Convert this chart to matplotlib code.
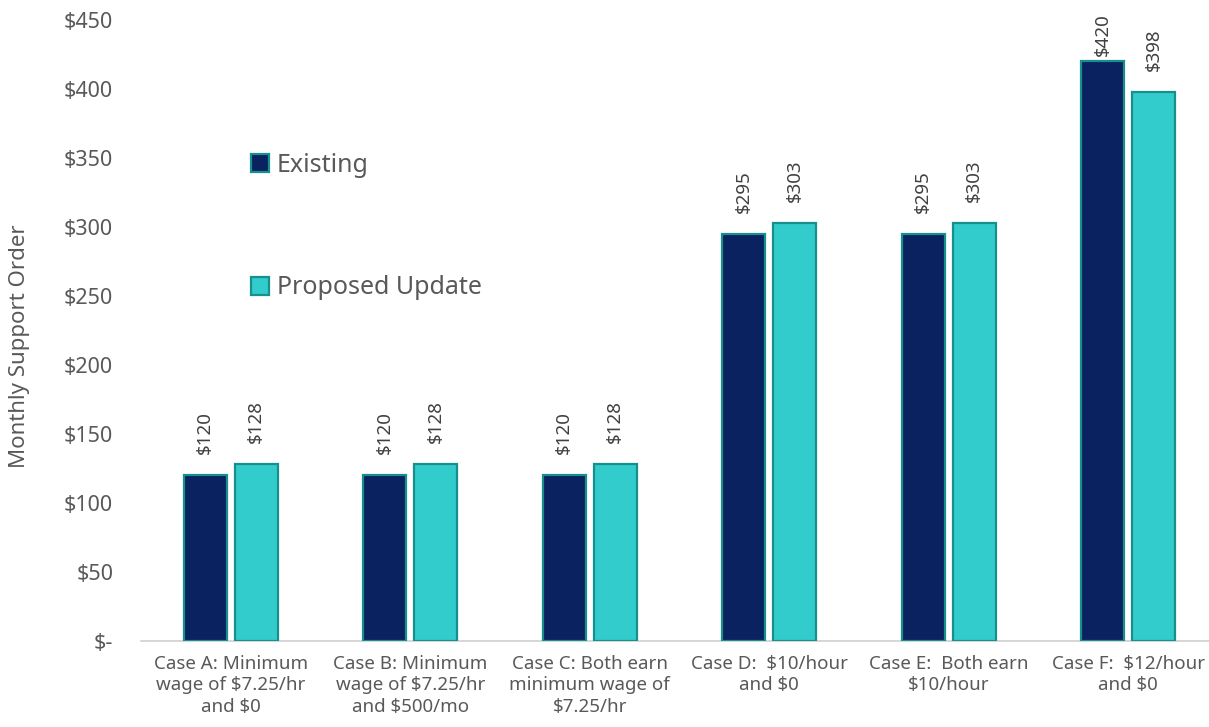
import matplotlib
matplotlib.use("Agg")
import matplotlib.pyplot as plt
import numpy as np

# Chart data
categories = [
    "Case A: Minimum\nwage of $7.25/hr\nand $0",
    "Case B: Minimum\nwage of $7.25/hr\nand $500/mo",
    "Case C: Both earn\nminimum wage of\n$7.25/hr",
    "Case D:  $10/hour\nand $0",
    "Case E:  Both earn\n$10/hour",
    "Case F:  $12/hour\nand $0",
]
existing = [120, 120, 120, 295, 295, 420]
proposed = [128, 128, 128, 303, 303, 398]
series_names = ["Existing", "Proposed Update"]
y_ticks = [0, 50, 100, 150, 200, 250, 300, 350, 400, 450]
y_tick_labels = ["$-", "$50", "$100", "$150", "$200", "$250", "$300", "$350", "$400", "$450"]

plt.rcParams["font.family"] = ["Noto Sans", "DejaVu Sans"]

NAVY = "#0b2260"
TEAL = "#33cccc"
EDGE = "#178f8c"
GRAY = "#595959"

W, H = 1209, 727
AX_LEFT, AX_BOTTOM, AX_TOP = 141, 641, 20
fig = plt.figure(figsize=(W / 100, H / 100), dpi=100)
ax = fig.add_axes([AX_LEFT / W, (H - AX_BOTTOM) / H, (W - AX_LEFT) / W,
                   (AX_BOTTOM - AX_TOP) / H])

YMAX = 450
px_per_unit = (AX_BOTTOM - AX_TOP) / YMAX

x = np.arange(len(categories))
bw = 0.24
off = 0.142
b1 = ax.bar(x - off, existing, bw, color=NAVY, edgecolor=EDGE, linewidth=1.6,
            label=series_names[0], zorder=3)
b2 = ax.bar(x + off, proposed, bw, color=TEAL, edgecolor=EDGE, linewidth=1.6,
            label=series_names[1], zorder=3)

# value labels sit above each bar; keep them inside the figure near the top
LABEL_LEN_PX = 44
TOP_LIMIT_PX = 12
for bars, vals in ((b1, existing), (b2, proposed)):
    for rect, v in zip(bars, vals):
        bar_top_px = AX_BOTTOM - v * px_per_unit
        gap_px = min(21, bar_top_px - LABEL_LEN_PX - TOP_LIMIT_PX)
        ax.annotate(f"${v}", (rect.get_x() + rect.get_width() / 2, v),
                    xytext=(0, gap_px * 0.72), textcoords="offset points",
                    rotation=90, ha="center", va="bottom",
                    fontsize=13.5, color="#404040", annotation_clip=False)

ax.set_xlim(-0.5, -0.5 + (W - AX_LEFT) / 179.5)
ax.set_ylim(0, YMAX)
ax.set_yticks(y_ticks)
ax.set_yticklabels(y_tick_labels, fontsize=15.5, color=GRAY)
ax.set_xticks(x)
ax.set_xticklabels(categories, fontsize=13.5, color=GRAY, linespacing=1.25)
ax.tick_params(axis="both", length=0)
ax.tick_params(axis="y", pad=20)
ax.tick_params(axis="x", pad=10)

for s in ("top", "right", "left"):
    ax.spines[s].set_visible(False)
ax.spines["bottom"].set_color("#d0d0d0")
ax.spines["bottom"].set_linewidth(1.2)

fig.text(20 / W, 1 - 346 / H, "Monthly Support Order", rotation=90,
         ha="center", va="center", fontsize=16, color=GRAY)

leg = ax.legend(loc="upper left", bbox_to_anchor=(0.103, 0.786),
                frameon=False, fontsize=18, labelspacing=3.9,
                handlelength=0.72, handleheight=0.72, handletextpad=0.3,
                borderpad=0, borderaxespad=0)
for t in leg.get_texts():
    t.set_color(GRAY)

fig.savefig("out.png", dpi=100)
